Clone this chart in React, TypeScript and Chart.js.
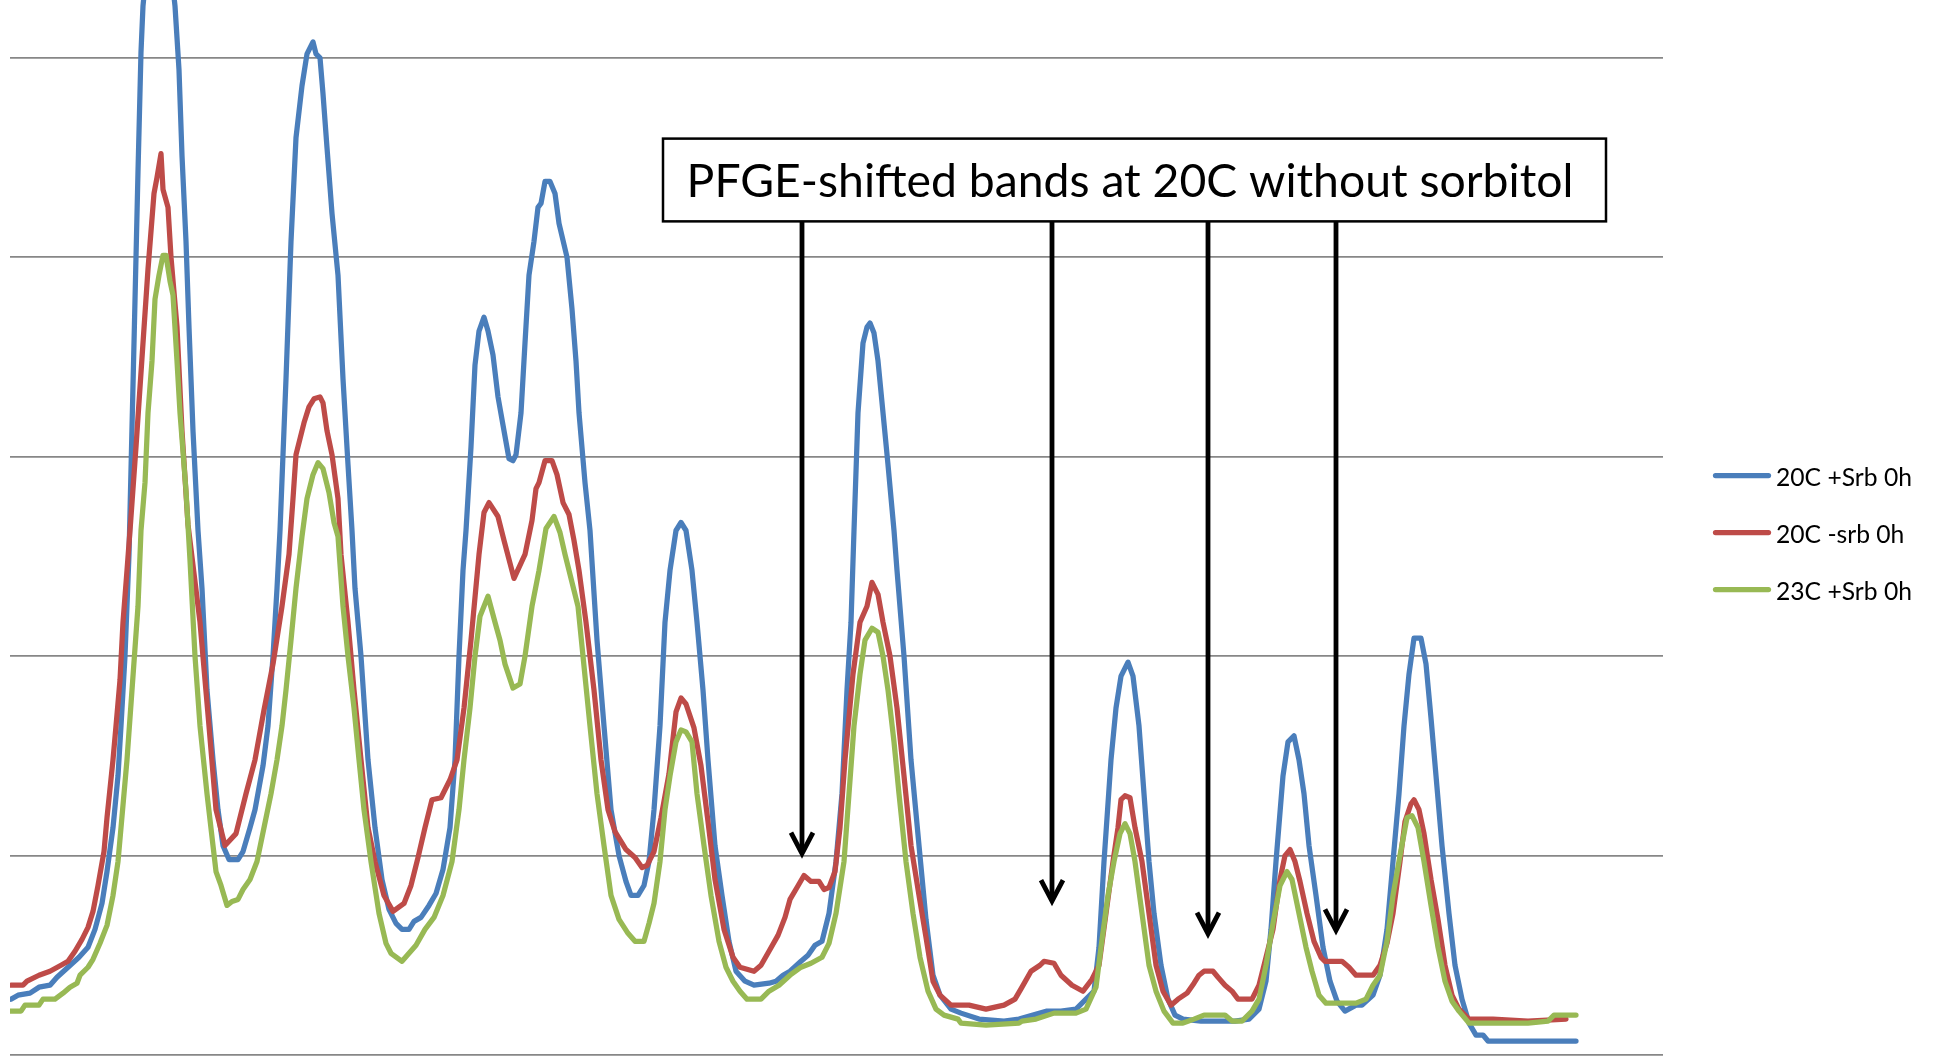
import React, { useEffect, useRef } from "react";
import { Chart, registerables } from "chart.js";

Chart.register(...registerables);

// ---------- data (scan position, intensity) ----------
const seriesNames = ["20C +Srb 0h", "20C -srb 0h", "23C +Srb 0h"];
const seriesColors = ["#4A7EBB", "#BE4B48", "#98B954"];

const scan20CPlusSrb: [number, number][] = [
  [1,2.8],[8,3.0],[20,3.1],[29,3.4],[40,3.5],[47,3.9],[58,4.4],[69,4.9],[78,5.4],[85,6.3],[92,7.6],[97,9.2],[103,11.4],[108,14.0],[111,16.5],[115,20.0],[119,25.1],[124,35.7],[128,44.3],[131,50.3],[133,52.6],[148,60.4],[165,52.6],[169,49.4],[172,45.1],[176,40.8],[179,36.5],[183,31.3],[188,26.3],[192,23.4],[197,18.3],[203,14.8],[208,12.3],[213,10.5],[219,9.8],[228,9.8],[233,10.2],[240,11.4],[245,12.3],[253,14.5],[258,16.5],[263,20.0],[267,23.4],[270,26.3],[276,33.9],[281,40.8],[286,46.0],[292,48.6],[297,50.2],[303,50.8],[306,50.2],[310,50.0],[313,48.2],[317,45.5],[322,42.2],[328,39.1],[333,33.9],[338,29.6],[342,26.3],[345,23.4],[351,20.0],[358,14.8],[365,11.4],[372,8.8],[379,7.3],[386,6.6],[392,6.3],[399,6.3],[404,6.7],[411,6.9],[419,7.5],[426,8.1],[433,9.3],[440,11.4],[445,14.8],[449,20.0],[453,24.3],[456,26.3],[461,30.5],[465,34.6],[469,36.3],[474,37.0],[478,36.3],[483,35.1],[488,33.0],[494,31.3],[499,29.9],[503,29.8],[506,30.1],[511,32.2],[515,35.7],[519,39.1],[524,40.8],[528,42.5],[531,42.7],[535,43.8],[540,43.8],[545,43.2],[549,41.7],[557,40.0],[562,37.4],[566,34.8],[569,32.2],[575,28.7],[580,26.3],[587,20.8],[594,16.5],[601,12.3],[609,10.0],[616,8.7],[621,8.0],[628,8.0],[634,8.5],[639,9.7],[644,12.3],[650,16.5],[655,21.7],[660,24.3],[666,26.3],[671,26.7],[676,26.3],[682,24.3],[687,21.7],[693,18.3],[698,14.8],[705,10.5],[712,8.0],[719,5.7],[726,4.2],[735,3.7],[744,3.5],[759,3.6],[766,3.7],[773,4.0],[780,4.2],[791,4.7],[798,5.0],[805,5.5],[812,5.7],[819,7.1],[826,9.7],[832,13.1],[837,18.3],[841,21.7],[844,26.3],[848,32.2],[853,35.7],[857,36.5],[860,36.7],[864,36.2],[868,34.8],[873,32.2],[878,29.6],[884,26.3],[887,24.3],[894,20.0],[901,14.8],[909,10.5],[916,6.8],[923,4.0],[930,3.0],[941,2.3],[951,2.1],[969,1.8],[994,1.7],[1009,1.8],[1023,2.0],[1037,2.2],[1051,2.2],[1066,2.3],[1076,2.8],[1084,3.2],[1089,5.4],[1094,9.7],[1101,14.8],[1106,17.4],[1111,19.0],[1118,19.7],[1123,19.0],[1129,16.5],[1134,13.1],[1139,9.7],[1144,7.1],[1151,4.5],[1158,2.8],[1165,2.0],[1173,1.8],[1191,1.7],[1225,1.7],[1239,1.8],[1249,2.3],[1256,3.7],[1261,6.3],[1266,9.7],[1273,14.0],[1278,15.7],[1284,16.0],[1289,14.8],[1294,13.1],[1299,10.5],[1306,8.0],[1313,5.4],[1320,3.7],[1327,2.7],[1335,2.2],[1346,2.5],[1352,2.5],[1363,3.0],[1370,4.0],[1377,6.3],[1383,9.7],[1389,13.1],[1394,16.5],[1399,19.1],[1404,20.9],[1411,20.9],[1416,19.6],[1421,16.9],[1426,14.0],[1432,10.5],[1439,7.1],[1445,4.5],[1452,2.8],[1459,1.6],[1466,1.0],[1473,1.0],[1478,0.7],[1566,0.7]
];

const scan20CMinusSrb: [number, number][] = [
  [1,3.5],[13,3.5],[17,3.7],[29,4.0],[40,4.2],[51,4.5],[58,4.7],[65,5.2],[72,5.8],[78,6.4],[83,7.2],[88,8.5],[94,10.2],[97,11.9],[103,14.8],[106,16.5],[110,18.8],[113,21.7],[117,24.3],[120,26.3],[126,30.5],[133,35.7],[138,39.4],[144,43.2],[147,44.0],[151,45.2],[153,43.4],[158,42.5],[161,40.0],[167,36.5],[172,31.3],[178,26.6],[190,21.7],[199,16.5],[206,12.3],[215,10.5],[226,11.1],[236,13.1],[245,14.8],[254,17.3],[263,19.6],[272,22.5],[279,25.1],[283,27.9],[286,30.1],[294,31.7],[299,32.5],[304,32.9],[310,33.0],[313,32.7],[317,31.3],[322,30.1],[328,27.9],[331,25.1],[338,21.7],[344,18.3],[351,14.8],[358,11.4],[365,9.7],[374,8.0],[383,7.2],[394,7.6],[401,8.5],[408,9.9],[415,11.4],[422,12.8],[431,12.9],[440,13.8],[447,14.8],[454,17.4],[461,20.8],[469,25.1],[474,27.2],[479,27.7],[488,27.0],[494,25.8],[504,23.9],[515,25.1],[522,26.8],[526,28.4],[529,28.7],[535,29.8],[542,29.8],[547,29.1],[553,27.7],[559,27.1],[564,25.8],[569,24.3],[576,21.7],[584,18.3],[591,14.8],[598,12.3],[605,11.2],[616,10.3],[625,9.9],[632,9.4],[637,9.5],[644,10.2],[651,11.9],[659,14.1],[666,17.2],[671,17.9],[676,17.6],[684,16.4],[691,14.5],[698,11.7],[705,8.8],[714,6.3],[723,4.9],[730,4.4],[744,4.2],[751,4.5],[759,5.2],[768,6.0],[775,6.9],[780,7.8],[787,8.4],[794,9.0],[801,8.7],[809,8.7],[814,8.3],[819,8.4],[825,9.2],[830,11.4],[835,14.8],[843,19.1],[850,21.7],[857,22.5],[862,23.7],[868,23.1],[873,21.7],[880,20.0],[887,17.4],[894,14.0],[901,10.5],[909,8.0],[916,5.9],[923,3.7],[930,3.0],[941,2.5],[959,2.5],[976,2.3],[994,2.5],[1005,2.8],[1012,3.4],[1021,4.2],[1030,4.5],[1034,4.7],[1044,4.6],[1051,4.0],[1062,3.5],[1073,3.2],[1082,3.8],[1089,4.5],[1096,7.1],[1103,9.7],[1108,11.4],[1111,12.8],[1115,13.0],[1120,12.9],[1125,11.4],[1132,9.7],[1139,7.1],[1146,4.5],[1153,3.2],[1161,2.5],[1168,2.8],[1177,3.1],[1184,3.6],[1189,4.0],[1194,4.2],[1203,4.2],[1208,3.9],[1215,3.5],[1222,3.2],[1228,2.8],[1242,2.8],[1249,3.5],[1256,4.9],[1263,6.3],[1270,8.8],[1275,10.0],[1280,10.3],[1285,9.7],[1290,8.7],[1297,7.1],[1304,5.7],[1311,4.9],[1315,4.7],[1332,4.7],[1339,4.4],[1346,4.0],[1363,4.0],[1370,4.5],[1377,5.6],[1383,7.1],[1390,9.7],[1395,11.7],[1401,12.6],[1404,12.8],[1409,12.3],[1414,11.1],[1421,8.8],[1428,6.8],[1435,4.5],[1442,3.0],[1449,2.3],[1459,1.8],[1483,1.8],[1518,1.7],[1556,1.8]
];

const scan23CPlusSrb: [number, number][] = [
  [1,2.2],[11,2.2],[15,2.5],[29,2.5],[33,2.8],[45,2.8],[53,3.1],[60,3.4],[67,3.6],[70,4.0],[78,4.4],[83,4.8],[90,5.6],[97,6.5],[103,8.0],[108,9.7],[111,11.4],[117,14.8],[122,18.3],[128,22.5],[131,26.3],[135,28.7],[138,32.2],[142,34.8],[145,37.9],[149,39.1],[153,40.1],[156,40.1],[160,38.8],[163,38.1],[167,34.8],[170,32.2],[176,28.3],[180,24.8],[185,20.0],[190,16.5],[197,13.1],[203,10.5],[206,9.2],[211,8.5],[217,7.5],[222,7.7],[228,7.8],[233,8.3],[240,8.8],[247,9.7],[254,11.4],[261,13.1],[267,14.8],[272,16.5],[276,18.3],[281,20.8],[286,23.4],[292,26.0],[297,27.9],[303,29.1],[308,29.7],[313,29.4],[319,28.2],[324,26.7],[328,26.0],[333,22.5],[338,20.0],[344,17.4],[349,14.8],[354,12.3],[361,9.7],[369,7.1],[376,5.6],[381,5.1],[392,4.7],[399,5.1],[406,5.5],[415,6.3],[424,6.9],[433,8.0],[442,9.7],[449,12.3],[454,14.8],[460,17.4],[465,20.0],[470,22.0],[478,23.0],[485,21.7],[490,20.8],[495,19.6],[503,18.4],[510,18.6],[515,20.0],[522,22.5],[529,24.3],[536,26.4],[544,27.0],[550,26.2],[555,25.1],[562,23.7],[568,22.5],[573,20.0],[580,16.5],[587,13.1],[594,10.5],[601,8.0],[609,6.8],[618,6.1],[625,5.7],[634,5.7],[639,6.6],[644,7.6],[650,9.7],[655,12.3],[660,14.0],[666,15.7],[671,16.3],[676,16.2],[682,15.7],[687,13.1],[694,10.5],[701,8.0],[709,5.7],[716,4.4],[723,3.7],[730,3.2],[737,2.8],[751,2.8],[759,3.2],[769,3.5],[780,4.0],[791,4.4],[801,4.6],[812,4.9],[819,5.6],[826,7.1],[834,9.7],[839,13.1],[844,16.5],[850,19.1],[855,20.8],[862,21.4],[868,21.2],[873,20.0],[878,18.3],[884,15.7],[889,13.1],[896,9.7],[903,7.1],[910,4.9],[918,3.2],[926,2.3],[934,2.0],[948,1.8],[951,1.6],[976,1.5],[1009,1.6],[1012,1.7],[1026,1.8],[1044,2.1],[1066,2.1],[1076,2.3],[1086,3.4],[1091,5.4],[1098,8.0],[1104,9.7],[1110,11.1],[1115,11.6],[1120,11.1],[1125,9.7],[1132,7.1],[1139,4.5],[1146,3.2],[1154,2.2],[1163,1.6],[1173,1.6],[1184,1.8],[1194,2.0],[1215,2.0],[1222,1.7],[1232,1.7],[1242,2.2],[1249,2.8],[1256,4.5],[1263,6.6],[1270,8.5],[1277,9.2],[1282,8.8],[1289,7.1],[1296,5.4],[1302,4.2],[1309,3.0],[1316,2.6],[1346,2.6],[1356,2.8],[1363,3.5],[1370,4.0],[1377,5.7],[1383,8.0],[1390,10.0],[1397,11.9],[1402,12.0],[1408,11.4],[1414,9.7],[1421,7.5],[1428,5.4],[1435,3.7],[1442,2.7],[1449,2.2],[1459,1.6],[1483,1.6],[1518,1.6],[1538,1.7],[1544,2.0],[1566,2.0]
];

const allScans = [scan20CPlusSrb, scan20CMinusSrb, scan23CPlusSrb];

// axis extents and gridline values
const xMin = 0;
const xMax = 1653;
const yMin = 0;
const yMax = 52.9;
const yGridValues = [0, 10, 20, 30, 40, 50];

// annotation: text, arrow targets (position, intensity of arrow tip)
const annotationText = "PFGE-shifted bands at 20C without sorbitol";
const arrowPositions = [792, 1042, 1198, 1326];
const arrowTipValues = [9.85, 7.47, 5.83, 6.0];
// annotation box, in data units
const boxLeftPos = 653;
const boxRightPos = 1596;
const boxTopVal = 45.95;
const boxBottomVal = 41.8;

const FONT = 'Lato, "Open Sans", "DejaVu Sans", sans-serif';

const annotationPlugin = {
  id: "pfgeAnnotation",
  afterDatasetsDraw(chart: any) {
    const { ctx } = chart;
    const x = chart.scales.x;
    const y = chart.scales.y;
    const L = x.getPixelForValue(boxLeftPos);
    const R = x.getPixelForValue(boxRightPos);
    const T = y.getPixelForValue(boxTopVal);
    const B = y.getPixelForValue(boxBottomVal);
    ctx.save();
    // arrows
    ctx.strokeStyle = "#000";
    ctx.lineWidth = 4.8;
    arrowPositions.forEach((p, i) => {
      const ax = Math.round(x.getPixelForValue(p));
      const tip = y.getPixelForValue(arrowTipValues[i]);
      const vtx = tip - 5;
      ctx.lineCap = "butt";
      ctx.lineJoin = "miter";
      ctx.beginPath();
      ctx.moveTo(ax, B);
      ctx.lineTo(ax, vtx - 2);
      ctx.stroke();
      ctx.beginPath();
      ctx.moveTo(ax - 11, vtx - 21);
      ctx.lineTo(ax, vtx);
      ctx.lineTo(ax + 11, vtx - 21);
      ctx.stroke();
    });
    // box
    ctx.fillStyle = "#fff";
    ctx.fillRect(L, T, R - L, B - T);
    ctx.lineWidth = 2.5;
    ctx.strokeStyle = "#000";
    ctx.strokeRect(L, T, R - L, B - T);
    // text, sized to fill the box like the original
    const targetW = (R - L) * 0.9406;
    ctx.font = `100px ${FONT}`;
    const w100 = ctx.measureText(annotationText).width;
    const size = (100 * targetW) / w100;
    ctx.font = `${size}px ${FONT}`;
    ctx.fillStyle = "#000";
    ctx.textBaseline = "alphabetic";
    ctx.textAlign = "left";
    ctx.fillText(annotationText, L + (R - L) * 0.025, T + (B - T) * 0.708);
    ctx.restore();
  },
};

const legendPlugin = {
  id: "sideLegend",
  afterDraw(chart: any) {
    const { ctx, chartArea } = chart;
    const lineX0 = chartArea.right + 50;
    const lineX1 = lineX0 + 58;
    const textX = lineX1 + 5;
    const midY = (chartArea.top + chartArea.bottom) / 2;
    const rowGap = 57;
    const firstY = midY - 52;
    ctx.save();
    ctx.font = `100px ${FONT}`;
    const w100 = ctx.measureText(seriesNames[0]).width;
    const size = (100 * 136) / w100;
    ctx.font = `${size}px ${FONT}`;
    seriesNames.forEach((name, i) => {
      const yy = firstY + i * rowGap;
      ctx.strokeStyle = seriesColors[i];
      ctx.lineWidth = 5.25;
      ctx.lineCap = "round";
      ctx.beginPath();
      ctx.moveTo(lineX0 + 2.5, yy);
      ctx.lineTo(lineX1 - 2.5, yy);
      ctx.stroke();
      ctx.fillStyle = "#000";
      ctx.textBaseline = "alphabetic";
      ctx.textAlign = "left";
      ctx.fillText(name, textX, yy + 10);
    });
    ctx.restore();
  },
};

export default function App() {
  const canvasRef = useRef<HTMLCanvasElement | null>(null);

  useEffect(() => {
    if (!canvasRef.current) return;
    const drawOrder = [3, 2, 1];
    const chart = new Chart(canvasRef.current, {
      type: "line",
      data: {
        datasets: allScans.map((scan, i) => ({
          label: seriesNames[i],
          data: scan.map(([p, v]) => ({ x: p, y: v })),
          borderColor: seriesColors[i],
          backgroundColor: seriesColors[i],
          borderWidth: 5.25,
          pointRadius: 0,
          pointHoverRadius: 0,
          tension: 0,
          fill: false,
          borderJoinStyle: "round" as const,
          borderCapStyle: "round" as const,
          order: drawOrder[i],
        })),
      },
      options: {
        responsive: false,
        animation: false,
        devicePixelRatio: 1,
        events: [],
        layout: { padding: { left: 10, right: 276, top: 0, bottom: 1 } },
        plugins: {
          legend: { display: false },
          tooltip: { enabled: false },
          title: { display: false },
        },
        scales: {
          x: {
            type: "linear",
            min: xMin,
            max: xMax,
            display: false,
          },
          y: {
            type: "linear",
            min: yMin,
            max: yMax,
            display: true,
            afterBuildTicks: (scale: any) => {
              scale.ticks = yGridValues.map((v) => ({ value: v }));
            },
            ticks: { display: false },
            border: { display: false },
            grid: {
              drawTicks: false,
              color: "#878787",
              lineWidth: 1.75,
            },
          },
        },
      },
      plugins: [annotationPlugin, legendPlugin],
    });
    return () => chart.destroy();
  }, []);

  return (
    <div style={{ position: "fixed", left: 0, top: 0, width: 1939, height: 1056, background: "#fff" }}>
      <canvas ref={canvasRef} width={1939} height={1056} style={{ width: 1939, height: 1056, display: "block" }} />
    </div>
  );
}
